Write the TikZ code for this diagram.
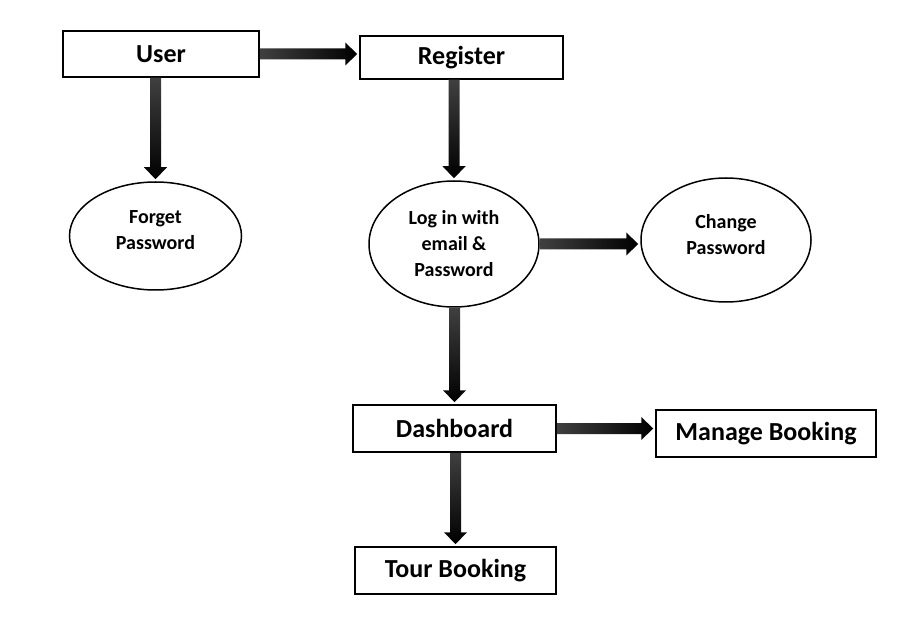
\documentclass[tikz,border=0pt]{standalone}
\usepackage{fontspec}
\setmainfont{Carlito}
\usetikzlibrary{shapes.geometric,calc}
\tikzset{
  box/.style={draw,line width=1.5pt,fill=white,inner sep=0pt,
    font=\fontsize{26}{30}\selectfont\bfseries},
  bubble/.style={ellipse,draw,line width=1.5pt,inner sep=0pt,align=center,
    font=\fontsize{20}{26}\selectfont\bfseries},
}
% fat shaded arrows: \hflow{from}{to} runs right, \vflow{from}{to} runs down
\newcommand{\hflow}[2]{%
  \shade[left color=black!75,right color=black]
    ($(#1.east)+(0,-5.5)$) -- ($(#2.west |- #1.east)+(-14,-5.5)$)
    -- ($(#2.west |- #1.east)+(-14,-11.5)$) -- ($(#2.west |- #1.east)+(-2,0)$)
    -- ($(#2.west |- #1.east)+(-14,11.5)$) -- ($(#2.west |- #1.east)+(-14,5.5)$)
    -- ($(#1.east)+(0,5.5)$) -- cycle;}
\newcommand{\vflow}[2]{%
  \shade[top color=black!75,bottom color=black]
    ($(#2.north |- #1.south)+(-5.5,0)$) -- ($(#2.north)+(-5.5,-14)$)
    -- ($(#2.north)+(-11.5,-14)$) -- ($(#2.north)+(0,-2)$)
    -- ($(#2.north)+(11.5,-14)$) -- ($(#2.north)+(5.5,-14)$)
    -- ($(#2.north |- #1.south)+(5.5,0)$) -- cycle;}
\begin{document}
\begin{tikzpicture}[x=1pt,y=-1pt]
  \useasboundingbox (0,0) rectangle (905,628);
  \node[box,minimum width=196,minimum height=46] (user) at (161,54) {User};
  \node[box,minimum width=203,minimum height=43] (reg) at (461.5,57.5) {Register};
  \node[bubble,text depth=11pt,minimum width=172,minimum height=108] (forget) at (155.5,236) {Forget\\Password};
  \node[bubble,minimum width=170,minimum height=126] (login) at (454,244) {Log in with\\email \&\\Password};
  \node[bubble,text depth=11pt,minimum width=170,minimum height=124] (change) at (726,240) {Change\\Password};
  \node[box,minimum width=203,minimum height=47] (dash) at (454.5,428.5) {Dashboard};
  \node[box,minimum width=220,minimum height=47] (manage) at (766,433.5) {Manage Booking};
  \node[box,minimum width=201,minimum height=47] (tour) at (455.5,570.5) {Tour Booking};
  \hflow{user}{reg}
  \vflow{user}{forget}
  \vflow{reg}{login}
  \hflow{login}{change}
  \vflow{login}{dash}
  \hflow{dash}{manage}
  \vflow{dash}{tour}
\end{tikzpicture}
\end{document}
